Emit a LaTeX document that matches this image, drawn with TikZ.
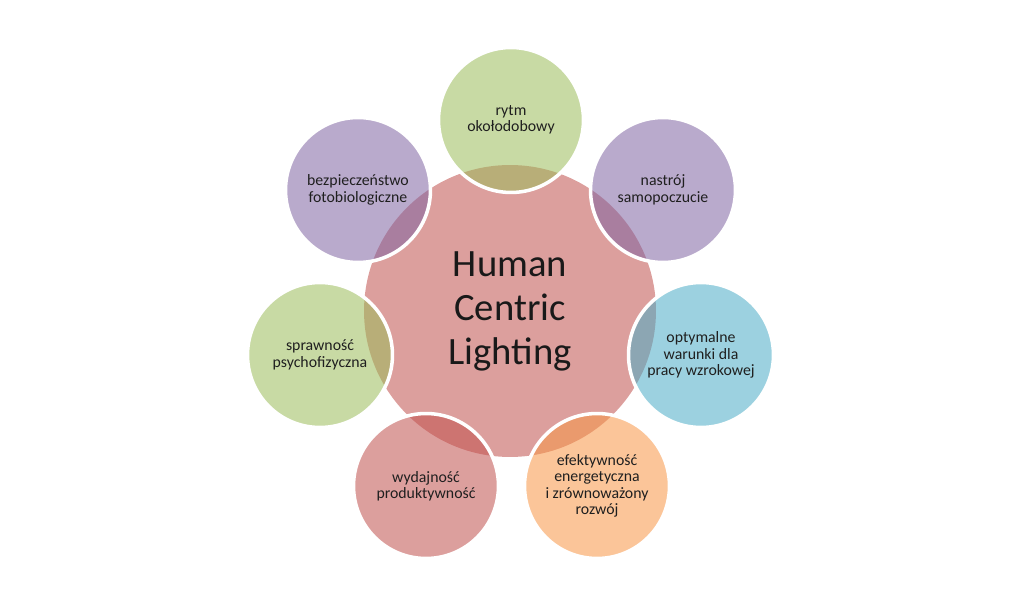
\documentclass[tikz,border=0pt]{standalone}
\usepackage{fontspec}
\setmainfont{Carlito}
\definecolor{accred}{HTML}{C0504D}
\definecolor{accgreen}{HTML}{9BBB59}
\definecolor{accpurple}{HTML}{8064A2}
\definecolor{accblue}{HTML}{4BACC6}
\definecolor{accorange}{HTML}{F79646}
\begin{document}
\begin{tikzpicture}[x=0.02cm,y=-0.02cm,
  bubble/.style={circle, minimum size=2.9cm, inner sep=0pt, fill opacity=0.55,
    text opacity=1, draw=white, draw opacity=1, line width=2pt, align=center,
    text=black!88, font=\fontsize{9}{9.3}\selectfont},
  hub/.style={circle, minimum size=5.84cm, inner sep=0pt, fill=accred, fill opacity=0.55,
    text opacity=1, align=center, text=black!90, font=\fontsize{22}{25}\selectfont}]
\useasboundingbox (0,0) rectangle (1024,614);
% central circle
\node[hub] (hcl) at (510,311) {Human\\Centric\\Lighting};
% satellites
\node[bubble, fill=accgreen]  (c1) at (511,120) {rytm\\okołodobowy};
\node[bubble, fill=accpurple] (c2) at (663,190) {nastrój\\samopoczucie};
\node[bubble, fill=accblue]   (c3) at (701,355) {optymalne\\warunki dla\\pracy wzrokowej};
\node[bubble, fill=accorange] (c4) at (597,486) {efektywność\\energetyczna\\i zrównoważony\\rozwój};
\node[bubble, fill=accred]    (c5) at (426,486) {wydajność\\produktywność};
\node[bubble, fill=accgreen]  (c6) at (320,355) {sprawność\\psychofizyczna};
\node[bubble, fill=accpurple] (c7) at (358,190) {bezpieczeństwo\\fotobiologiczne};
\end{tikzpicture}
\end{document}
